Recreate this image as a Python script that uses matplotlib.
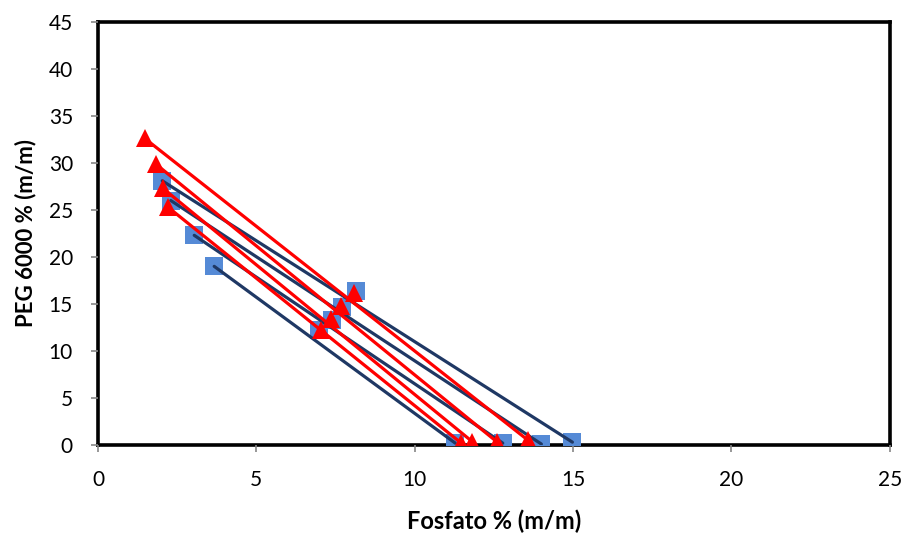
import matplotlib
matplotlib.use("Agg")
import matplotlib.pyplot as plt

plt.rcParams["font.family"] = ["Lato", "DejaVu Sans"]

# blue series: experimental tie lines (top phase, overall mix, bottom phase)
blue_top_x = [2.03, 2.30, 3.04, 3.67]
blue_top_y = [28.1, 26.0, 22.3, 19.0]
blue_mid_x = [8.15, 7.71, 7.40, 6.98]
blue_mid_y = [16.4, 14.7, 13.3, 12.2]
blue_bot_x = [14.98, 14.00, 12.78, 11.28]
blue_bot_y = [0.3, 0.1, 0.2, 0.2]

# red series: calculated tie lines
red_top_x = [1.48, 1.82, 2.05, 2.21]
red_top_y = [32.6, 29.9, 27.3, 25.3]
red_mid_x = [8.08, 7.66, 7.35, 7.03]
red_mid_y = [16.2, 14.75, 13.4, 12.2]
red_bot_x = [13.58, 12.59, 11.82, 11.47]
red_bot_y = [0.5, 0.35, 0.35, 0.2]

x_ticks = [0, 5, 10, 15, 20, 25]
y_ticks = [0, 5, 10, 15, 20, 25, 30, 35, 40, 45]

SQUARE_BLUE = "#558AD6"
LINE_NAVY = "#1F3864"
RED = "#FF0000"


def draw_blue(ax):
    ax.plot(blue_top_x + blue_mid_x + blue_bot_x, blue_top_y + blue_mid_y + blue_bot_y,
            linestyle="none", marker="s", markersize=13.5, color=SQUARE_BLUE,
            markeredgewidth=0, zorder=2)
    # tie lines join the two phases only, the mix point sits a bit off them
    for x0, y0, x1, y1 in zip(blue_top_x, blue_top_y, blue_bot_x, blue_bot_y):
        ax.plot([x0, x1], [y0, y1], color=LINE_NAVY, linewidth=2.3,
                solid_capstyle="round", zorder=3)


def draw_red(ax):
    for x0, y0, x1, y1 in zip(red_top_x, red_top_y, red_bot_x, red_bot_y):
        ax.plot([x0, x1], [y0, y1], color=RED, linewidth=2.3, zorder=4)
    ax.plot(red_top_x + red_mid_x + red_bot_x, red_top_y + red_mid_y + red_bot_y,
            linestyle="none", marker="^", markersize=12.5, color=RED,
            markeredgewidth=0, zorder=5)


def main():
    fig = plt.figure(figsize=(9.07, 5.34), dpi=100)
    ax = fig.add_axes([0.108, 0.1667, 0.873, 0.7923])

    draw_blue(ax)
    draw_red(ax)

    ax.set_xlim(0, 25)
    ax.set_ylim(0, 45)
    ax.set_xticks(x_ticks)
    ax.set_yticks(y_ticks)
    ax.tick_params(axis="both", direction="out", length=5, width=1.2,
                   color="#868686", labelsize=15)
    ax.tick_params(axis="y", pad=13)
    ax.tick_params(axis="x", pad=13)

    for spine in ax.spines.values():
        spine.set_color("black")
        spine.set_linewidth(2.6)
        spine.set_zorder(1)

    ax.set_xlabel("Fosfato % (m/m)", fontsize=17, fontweight="bold", labelpad=14)
    ax.set_ylabel("PEG 6000 % (m/m)", fontsize=16, fontweight="bold", labelpad=9)

    fig.savefig("out.png", dpi=100)
    plt.close(fig)


if __name__ == "__main__":
    main()
